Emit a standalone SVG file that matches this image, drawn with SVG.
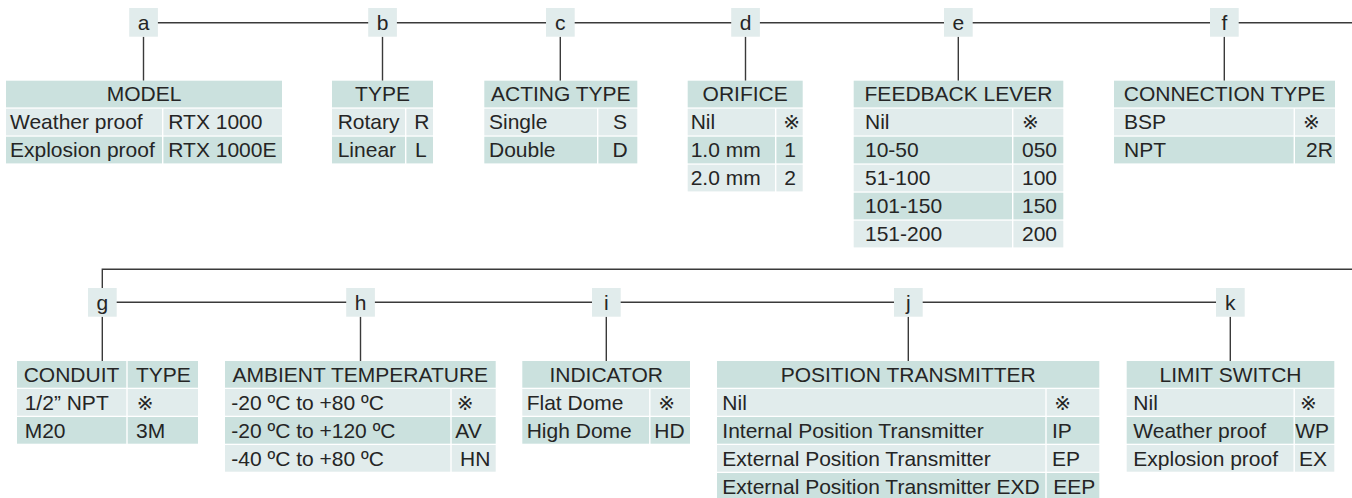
<svg xmlns="http://www.w3.org/2000/svg" width="1352" height="498" viewBox="0 0 1352 498">
<style>
text{font-family:"Liberation Sans",Arial,"DejaVu Sans",sans-serif;font-size:21px;fill:#252525}
.c{text-anchor:middle}
.rm{font-family:"DejaVu Sans","Noto Sans CJK JP",sans-serif;font-size:20px}
.d{fill:#cbe1de}
.l{fill:#e1ecec}
.lb{fill:#e1ecec}
.cn{stroke:#3a3a3a;stroke-width:1.4;fill:none}
.dv{stroke:#ffffff;stroke-width:1.4}
</style>
<rect width="1352" height="498" fill="#ffffff"/>
<g id="connectors">
<path class="cn" d="M143.5 22.7H1352"/>
<path class="cn" d="M143.5 36.7V80.7M382.5 36.7V80.7M560.3 36.7V80.7M745.5 36.7V80.7M958.3 36.7V80.7M1224.3 36.7V80.7"/>
<path class="cn" d="M102.3 288V269.3H1352"/>
<path class="cn" d="M102.3 302.3H1230.3"/>
<path class="cn" d="M102.3 316.7V361M360.5 316.7V361M606.3 316.7V361M908.3 316.7V361M1230.3 316.7V361"/>
</g>

<g id="node-a">
<rect class="lb" x="129.2" y="8" width="28.7" height="28.7"/>
<text class="c" x="143.5" y="30.3">a</text>
<rect class="d" x="6" y="80.7" width="276" height="26.7"/>
<rect class="l" x="6" y="108.7" width="276" height="26.7"/>
<rect class="d" x="6" y="136.7" width="276" height="26.7"/>
<path class="dv" d="M162.7 108V164"/>
<text class="c" x="144" y="101.3">MODEL</text>
<text x="10" y="129.3">Weather proof</text><text x="168.3" y="129.3">RTX 1000</text>
<text x="10" y="157.3">Explosion proof</text><text x="168.3" y="157.3">RTX 1000E</text>
</g>

<g id="node-b">
<rect class="lb" x="368.2" y="8" width="28.7" height="28.7"/>
<text class="c" x="382.5" y="30.3">b</text>
<rect class="d" x="332" y="80.7" width="101" height="26.7"/>
<rect class="l" x="332" y="108.7" width="101" height="26.7"/>
<rect class="d" x="332" y="136.7" width="101" height="26.7"/>
<path class="dv" d="M405.7 108V164"/>
<text class="c" x="382.5" y="101.3">TYPE</text>
<text x="337.7" y="129.3">Rotary</text><text x="414.3" y="129.3">R</text>
<text x="337.7" y="157.3">Linear</text><text x="415" y="157.3">L</text>
</g>

<g id="node-c">
<rect class="lb" x="546" y="8" width="28.7" height="28.7"/>
<text class="c" x="560.3" y="30.3">c</text>
<rect class="d" x="484.3" y="80.7" width="153" height="26.7"/>
<rect class="l" x="484.3" y="108.7" width="153" height="26.7"/>
<rect class="d" x="484.3" y="136.7" width="153" height="26.7"/>
<path class="dv" d="M597.7 108V164"/>
<text class="c" x="560.8" y="101.3">ACTING TYPE</text>
<text x="489" y="129.3">Single</text><text class="c" x="620" y="129.3">S</text>
<text x="489" y="157.3">Double</text><text class="c" x="620" y="157.3">D</text>
</g>

<g id="node-d">
<rect class="lb" x="731.2" y="8" width="28.7" height="28.7"/>
<text class="c" x="745.5" y="30.3">d</text>
<rect class="d" x="687.7" y="80.7" width="115" height="26.7"/>
<rect class="l" x="687.7" y="108.7" width="115" height="26.7"/>
<rect class="d" x="687.7" y="136.7" width="115" height="26.7"/>
<rect class="l" x="687.7" y="164.7" width="115" height="26.7"/>
<path class="dv" d="M775.7 108V192"/>
<text class="c" x="745.2" y="101.3">ORIFICE</text>
<text x="690.7" y="129.3">Nil</text><text class="rm" x="783.3" y="129.3">※</text>
<text x="690.7" y="157.3">1.0 mm</text><text x="784.3" y="157.3">1</text>
<text x="690.7" y="185.3">2.0 mm</text><text x="784.3" y="185.3">2</text>
</g>

<g id="node-e">
<rect class="lb" x="944" y="8" width="28.7" height="28.7"/>
<text class="c" x="958.3" y="30.3">e</text>
<rect class="d" x="853.7" y="80.7" width="209.6" height="26.7"/>
<rect class="l" x="853.7" y="108.7" width="209.6" height="26.7"/>
<rect class="d" x="853.7" y="136.7" width="209.6" height="26.7"/>
<rect class="l" x="853.7" y="164.7" width="209.6" height="26.7"/>
<rect class="d" x="853.7" y="192.7" width="209.6" height="26.7"/>
<rect class="l" x="853.7" y="220.7" width="209.6" height="26.7"/>
<path class="dv" d="M1012.7 108V248"/>
<text class="c" x="958.5" y="101.3">FEEDBACK LEVER</text>
<text x="865" y="129.3">Nil</text><text class="rm" x="1022" y="129.3">※</text>
<text x="865" y="157.3">10-50</text><text x="1022" y="157.3">050</text>
<text x="865" y="185.3">51-100</text><text x="1022" y="185.3">100</text>
<text x="865" y="213.3">101-150</text><text x="1022" y="213.3">150</text>
<text x="865" y="241.3">151-200</text><text x="1022" y="241.3">200</text>
</g>

<g id="node-f">
<rect class="lb" x="1210" y="8" width="28.7" height="28.7"/>
<text class="c" x="1224.3" y="30.3">f</text>
<rect class="d" x="1114" y="80.7" width="221" height="26.7"/>
<rect class="l" x="1114" y="108.7" width="221" height="26.7"/>
<rect class="d" x="1114" y="136.7" width="221" height="26.7"/>
<path class="dv" d="M1294.3 108V164"/>
<text class="c" x="1224.5" y="101.3">CONNECTION TYPE</text>
<text x="1124" y="129.3">BSP</text><text class="rm" x="1303" y="129.3">※</text>
<text x="1124" y="157.3">NPT</text><text x="1306" y="157.3">2R</text>
</g>

<g id="node-g">
<rect class="lb" x="88" y="288" width="28.7" height="28.7"/>
<text class="c" x="102.3" y="310.2">g</text>
<rect class="d" x="17" y="361" width="181" height="26.7"/>
<rect class="l" x="17" y="389" width="181" height="26.7"/>
<rect class="d" x="17" y="417" width="181" height="26.7"/>
<path class="dv" d="M127 360V444"/>
<text x="23.7" y="381.6">CONDUIT</text><text x="136" y="381.6">TYPE</text>
<text x="24.7" y="409.6">1/2” NPT</text><text class="rm" x="136.7" y="409.6">※</text>
<text x="24.7" y="437.6">M20</text><text x="136" y="437.6">3M</text>
</g>

<g id="node-h">
<rect class="lb" x="346.2" y="288" width="28.7" height="28.7"/>
<text class="c" x="360.5" y="310.2">h</text>
<rect class="d" x="225" y="361" width="270.7" height="26.7"/>
<rect class="l" x="225" y="389" width="270.7" height="26.7"/>
<rect class="d" x="225" y="417" width="270.7" height="26.7"/>
<rect class="l" x="225" y="445" width="270.7" height="26.7"/>
<path class="dv" d="M451 388V472"/>
<text class="c" x="360.3" y="381.6">AMBIENT TEMPERATURE</text>
<text x="231.3" y="409.6">-20 ºC to +80 ºC</text><text class="rm" x="456.7" y="409.6">※</text>
<text x="231.3" y="437.6">-20 ºC to +120 ºC</text><text x="455.3" y="437.6">AV</text>
<text x="231.3" y="465.6">-40 ºC to +80 ºC</text><text x="460" y="465.6">HN</text>
</g>

<g id="node-i">
<rect class="lb" x="592" y="288" width="28.7" height="28.7"/>
<text class="c" x="606.3" y="310.2">i</text>
<rect class="d" x="522.3" y="361" width="167.7" height="26.7"/>
<rect class="l" x="522.3" y="389" width="167.7" height="26.7"/>
<rect class="d" x="522.3" y="417" width="167.7" height="26.7"/>
<path class="dv" d="M649.8 388V444"/>
<text class="c" x="606.2" y="381.6">INDICATOR</text>
<text x="526.7" y="409.6">Flat Dome</text><text class="rm" x="658.3" y="409.6">※</text>
<text x="526.7" y="437.6">High Dome</text><text x="654.3" y="437.6">HD</text>
</g>

<g id="node-j">
<rect class="lb" x="894" y="288" width="28.7" height="28.7"/>
<text class="c" x="908.3" y="310.2">j</text>
<rect class="d" x="717" y="361" width="382.3" height="26.7"/>
<rect class="l" x="717" y="389" width="382.3" height="26.7"/>
<rect class="d" x="717" y="417" width="382.3" height="26.7"/>
<rect class="l" x="717" y="445" width="382.3" height="26.7"/>
<rect class="d" x="717" y="473" width="382.3" height="26.7"/>
<path class="dv" d="M1046 388V500"/>
<text class="c" x="908.2" y="381.6">POSITION TRANSMITTER</text>
<text x="722.3" y="409.6">Nil</text><text class="rm" x="1054.3" y="409.6">※</text>
<text x="722.3" y="437.6">Internal Position Transmitter</text><text x="1052" y="437.6">IP</text>
<text x="722.3" y="465.6">External Position Transmitter</text><text x="1052" y="465.6">EP</text>
<text x="722.3" y="493.6">External Position Transmitter EXD</text><text x="1053.3" y="493.6">EEP</text>
</g>

<g id="node-k">
<rect class="lb" x="1216" y="288" width="28.7" height="28.7"/>
<text class="c" x="1230.3" y="310.2">k</text>
<rect class="d" x="1126.7" y="361" width="207.6" height="26.7"/>
<rect class="l" x="1126.7" y="389" width="207.6" height="26.7"/>
<rect class="d" x="1126.7" y="417" width="207.6" height="26.7"/>
<rect class="l" x="1126.7" y="445" width="207.6" height="26.7"/>
<path class="dv" d="M1294.2 388V472"/>
<text class="c" x="1230.5" y="381.6">LIMIT SWITCH</text>
<text x="1133.3" y="409.6">Nil</text><text class="rm" x="1300" y="409.6">※</text>
<text x="1133.3" y="437.6">Weather proof</text><text x="1295.3" y="437.6">WP</text>
<text x="1133.3" y="465.6">Explosion proof</text><text x="1299" y="465.6">EX</text>
</g>
</svg>
